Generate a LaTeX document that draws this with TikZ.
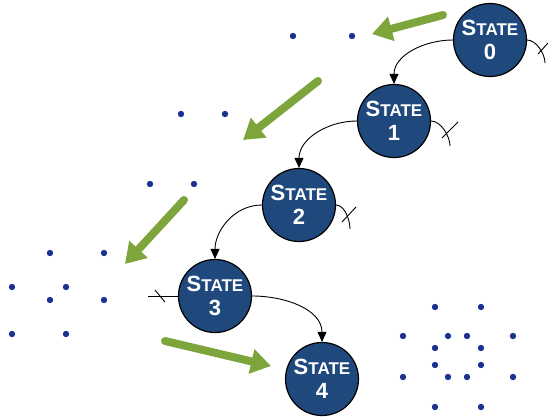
\documentclass[tikz,border=0pt]{standalone}
\usepackage{fontspec}
\setmainfont{Liberation Sans}
\usetikzlibrary{arrows.meta}
\definecolor{statefill}{RGB}{31,73,125}
\definecolor{dotc}{RGB}{26,49,144}
\definecolor{greenarr}{RGB}{125,165,60}
\tikzset{
  statenode/.style={circle, draw=black, line width=1.2pt, fill=statefill, minimum size=73pt, inner sep=0pt, align=center, text=white, font=\bfseries\fontsize{22}{24}\selectfont},
  conn/.style={line width=0.9pt, -{Triangle[width=9pt,length=10pt]}},
  blocked/.style={line width=0.9pt},
  tick/.style={line width=0.9pt},
  bigarrow/.style={line width=8pt, draw=greenarr, line cap=round, -{Triangle[width=24pt,length=20pt]}},
  dot/.style={fill=dotc}
}
\newcommand{\stlabel}[1]{S{\fontsize{17}{24}\selectfont TATE}\\#1}
\begin{document}
\begin{tikzpicture}[x=1pt,y=-1pt]
\useasboundingbox (0,0) rectangle (548,418);

% green arrows
\coordinate (g1a) at (443,15); \coordinate (g1b) at (372,34);
\coordinate (g2a) at (318,81); \coordinate (g2b) at (243,140);
\coordinate (g3a) at (184,200); \coordinate (g3b) at (125,264);
\coordinate (g4a) at (165,341); \coordinate (g4b) at (271,366);
\draw[bigarrow] (g1a) -- (g1b);
\draw[bigarrow] (g2a) -- (g2b);
\draw[bigarrow] (g3a) -- (g3b);
\draw[bigarrow] (g4a) -- (g4b);

% dots
\foreach \p in {(293,36),(352,36),(181,114),(225,114),(150,184),(194,184),
  (50,253),(104,253),(12,287),(66,287),(50,300),(104,300),(12,334),(66,334),
  (435,307),(481,307),(403,336),(448,336),(467,336),(513,336),
  (435,348),(481,348),(435,365),(481,365),
  (403,377),(448,377),(467,377),(513,377),(435,407),(481,407)}
  \fill[dot] \p circle (3.2);

% states
\node[statenode] (s0) at (490,40) {\stlabel{0}};
\node[statenode] (s1) at (394,121) {\stlabel{1}};
\node[statenode] (s2) at (299,205) {\stlabel{2}};
\node[statenode] (s3) at (215,296) {\stlabel{3}};
\node[statenode] (s4) at (322,379) {\stlabel{4}};

% connectors
\draw[conn] (s0.west) to[out=180,in=90] (s1.north);
\draw[conn] (s1.west) to[out=180,in=90] (s2.north);
\draw[conn] (s2.west) to[out=180,in=90] (s3.north);
\draw[conn] (s3.east) to[out=0,in=90] (s4.north);

% blocked ends
\coordinate (e0) at (545,63);
\coordinate (e1) at (450,146);
\coordinate (e2) at (350,229);
\coordinate (e3) at (148,296);
\draw[blocked] (s0.east) to[out=0,in=90,looseness=0.8] (e0);
\draw[blocked] (s1.east) to[out=0,in=90,looseness=0.8] (e1);
\draw[blocked] (s2.east) to[out=0,in=90,looseness=0.8] (e2);
\draw[blocked] (s3.west) -- (e3);
\coordinate (t0a) at (538,54); \coordinate (t0b) at (548,43);
\coordinate (t1a) at (442,138); \coordinate (t1b) at (458,122);
\coordinate (t2a) at (342,222); \coordinate (t2b) at (356,207);
\coordinate (t3a) at (155,290); \coordinate (t3b) at (165,302);
\draw[tick] (t0a) -- (t0b);
\draw[tick] (t1a) -- (t1b);
\draw[tick] (t2a) -- (t2b);
\draw[tick] (t3a) -- (t3b);
\end{tikzpicture}
\end{document}
